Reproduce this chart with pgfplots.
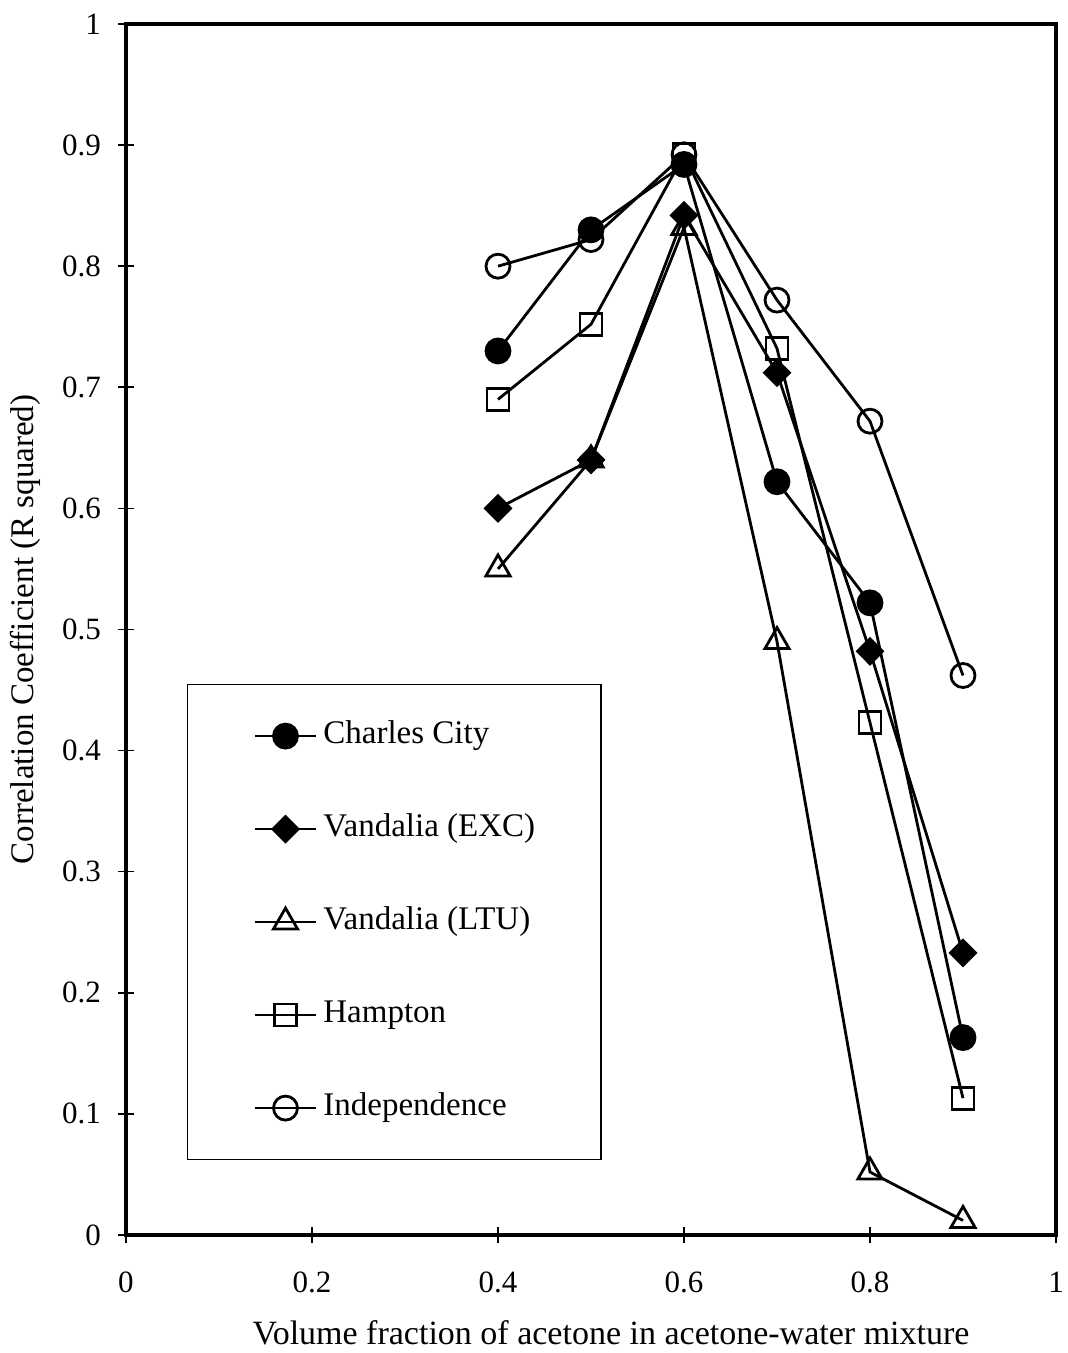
\documentclass[border=0pt]{standalone}
\usepackage{fontspec}
\setmainfont{Liberation Serif}
\usepackage{pgfplots}
\pgfplotsset{compat=1.18}
\begin{document}
\begin{tikzpicture}
\useasboundingbox (-63pt,-59pt) rectangle (470.5pt,617.5pt);
\begin{axis}[
  scale only axis,
  width=465pt, height=605.5pt,
  xmin=0, xmax=1, ymin=0, ymax=1,
  xtick={0,0.2,0.4,0.6,0.8,1},
  ytick={0,0.1,0.2,0.3,0.4,0.5,0.6,0.7,0.8,0.9,1},
  xticklabels={0,0.2,0.4,0.6,0.8,1},
  yticklabels={0,0.1,0.2,0.3,0.4,0.5,0.6,0.7,0.8,0.9,1},
  xtick pos=bottom, ytick pos=left,
  tick align=center,
  major tick length=8pt,
  tick style={black, line width=0.8pt},
  axis line style={line width=2pt},
  ticklabel style={font=\fontsize{15.5}{18}\selectfont},
  xticklabel style={yshift=-11pt},
  yticklabel style={xshift=-5pt},
  xlabel={Volume fraction of acetone in acetone-water mixture},
  ylabel={Correlation Coefficient (R squared)},
  xlabel style={font=\fontsize{17}{20}\selectfont, at={(axis description cs:0.5215,-0.081)}, anchor=center},
  ylabel style={font=\fontsize{16.5}{20}\selectfont, at={(axis description cs:-0.1086,0.5)}, anchor=center},
  every axis plot/.append style={black, line width=1.4pt, mark size=6pt},
  legend style={at={(0.0656,0.455)}, anchor=north west, draw=black, solid, line width=0.6pt,
    font=\fontsize{16.5}{19}\selectfont, row sep=32pt, column sep=3pt, inner xsep=33pt, inner ysep=18.5pt,
    nodes={inner sep=0pt, text height=11pt, text depth=3.5pt},
    legend cell align=left},
  legend image code/.code={
    \draw[mark repeat=2,mark phase=2,solid,#1] plot coordinates {(0pt,0pt) (15.25pt,0pt) (30.5pt,0pt)};
  },
]
\addplot[mark=*, mark options={solid, fill=black}] coordinates {(0.4,0.73) (0.5,0.83) (0.6,0.884) (0.7,0.622) (0.8,0.522) (0.9,0.163)};
\addlegendentry{Charles City}
\addplot[mark=diamond*, mark size=6.25pt, mark options={solid, fill=black, xscale=1.33}] coordinates {(0.4,0.60) (0.5,0.64) (0.6,0.842) (0.7,0.712) (0.8,0.482) (0.9,0.233)};
\addlegendentry{Vandalia (EXC)}
\addplot[mark=triangle, mark size=7pt, mark options={solid, fill=white}] coordinates {(0.4,0.55) (0.5,0.64) (0.6,0.832) (0.7,0.49) (0.8,0.052) (0.9,0.012)};
\addlegendentry{Vandalia (LTU)}
\addplot[mark=square, mark size=5.5pt, mark options={solid, fill=white}] coordinates {(0.4,0.69) (0.5,0.752) (0.6,0.892) (0.7,0.732) (0.8,0.423) (0.9,0.113)};
\addlegendentry{Hampton}
\addplot[mark=o, mark options={solid, fill=white}] coordinates {(0.4,0.80) (0.5,0.822) (0.6,0.892) (0.7,0.772) (0.8,0.672) (0.9,0.462)};
\addlegendentry{Independence}
\end{axis}
\end{tikzpicture}
\end{document}
